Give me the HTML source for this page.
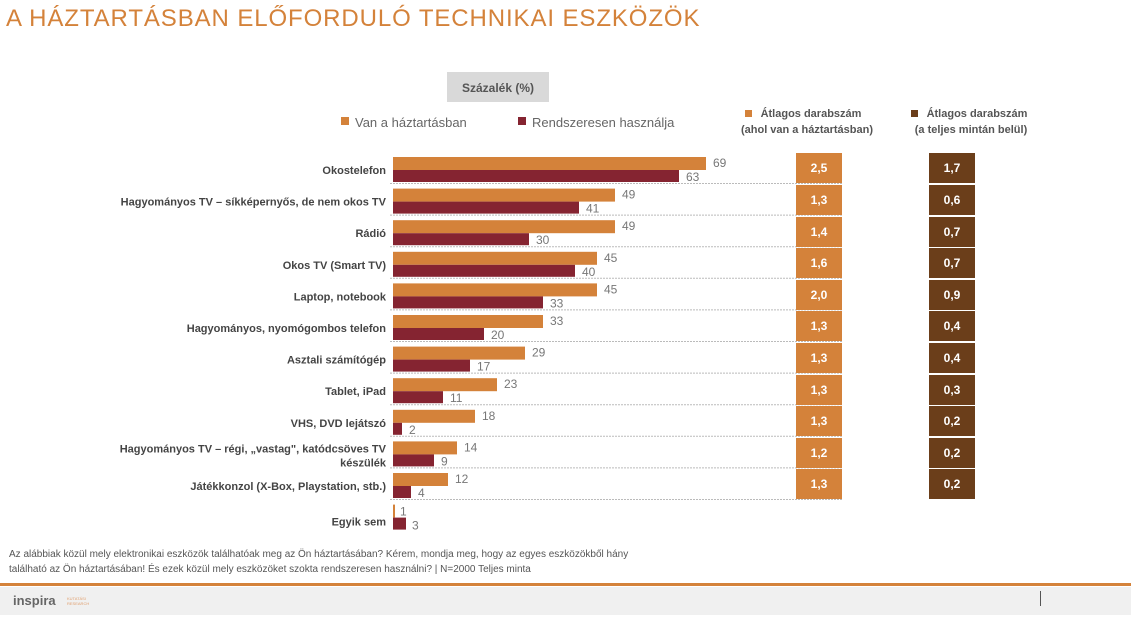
<!DOCTYPE html>
<html><head><meta charset="utf-8"><style>
body{margin:0;width:1131px;height:615px;overflow:hidden;background:#fff;font-family:"Liberation Sans",sans-serif}
</style></head><body>
<svg width="1131" height="615" xmlns="http://www.w3.org/2000/svg" font-family="Liberation Sans, sans-serif">
<text x="6" y="26" font-size="24" fill="#D4823A" letter-spacing="0.9">A HÁZTARTÁSBAN ELŐFORDULÓ TECHNIKAI ESZKÖZÖK</text>
<rect x="447" y="72" width="102" height="30" fill="#d9d9d9"/>
<text x="498" y="92" font-size="12" font-weight="bold" fill="#555" text-anchor="middle">Százalék (%)</text>
<rect x="341" y="117" width="8" height="8" fill="#D4823A"/>
<text x="355" y="127" font-size="13" fill="#666">Van a háztartásban</text>
<rect x="518" y="117" width="8" height="8" fill="#852431"/>
<text x="532" y="127" font-size="13" fill="#666">Rendszeresen  használja</text>
<rect x="745" y="110" width="7" height="7" fill="#D4823A"/>
<text x="811" y="117" font-size="11" font-weight="bold" fill="#555" text-anchor="middle">  Átlagos darabszám</text>
<text x="807" y="133" font-size="11" font-weight="bold" fill="#555" text-anchor="middle">(ahol van a háztartásban)</text>
<rect x="911" y="110" width="7" height="7" fill="#6B3E1A"/>
<text x="977" y="117" font-size="11" font-weight="bold" fill="#555" text-anchor="middle">  Átlagos darabszám</text>
<text x="971" y="133" font-size="11" font-weight="bold" fill="#555" text-anchor="middle">(a teljes mintán belül)</text>
<g font-size="11" font-weight="bold" fill="#444">
<g transform="translate(0,157)"><text x="386" y="17" text-anchor="end">Okostelefon</text><rect x="393" y="0" width="313" height="13" fill="#D4823A"/><rect x="393" y="13" width="286" height="12" fill="#852431"/><text x="713" y="10" font-weight="normal" fill="#777" font-size="12">69</text><text x="686" y="24" font-weight="normal" fill="#777" font-size="12">63</text></g>
<g transform="translate(0,188.6)"><text x="386" y="17" text-anchor="end">Hagyományos TV – síkképernyős, de nem okos TV</text><rect x="393" y="0" width="222" height="13" fill="#D4823A"/><rect x="393" y="13" width="186" height="12" fill="#852431"/><text x="622" y="10" font-weight="normal" fill="#777" font-size="12">49</text><text x="586" y="24" font-weight="normal" fill="#777" font-size="12">41</text></g>
<g transform="translate(0,220.2)"><text x="386" y="17" text-anchor="end">Rádió</text><rect x="393" y="0" width="222" height="13" fill="#D4823A"/><rect x="393" y="13" width="136" height="12" fill="#852431"/><text x="622" y="10" font-weight="normal" fill="#777" font-size="12">49</text><text x="536" y="24" font-weight="normal" fill="#777" font-size="12">30</text></g>
<g transform="translate(0,251.8)"><text x="386" y="17" text-anchor="end">Okos TV (Smart TV)</text><rect x="393" y="0" width="204" height="13" fill="#D4823A"/><rect x="393" y="13" width="182" height="12" fill="#852431"/><text x="604" y="10" font-weight="normal" fill="#777" font-size="12">45</text><text x="582" y="24" font-weight="normal" fill="#777" font-size="12">40</text></g>
<g transform="translate(0,283.4)"><text x="386" y="17" text-anchor="end">Laptop, notebook</text><rect x="393" y="0" width="204" height="13" fill="#D4823A"/><rect x="393" y="13" width="150" height="12" fill="#852431"/><text x="604" y="10" font-weight="normal" fill="#777" font-size="12">45</text><text x="550" y="24" font-weight="normal" fill="#777" font-size="12">33</text></g>
<g transform="translate(0,315)"><text x="386" y="17" text-anchor="end">Hagyományos, nyomógombos telefon</text><rect x="393" y="0" width="150" height="13" fill="#D4823A"/><rect x="393" y="13" width="91" height="12" fill="#852431"/><text x="550" y="10" font-weight="normal" fill="#777" font-size="12">33</text><text x="491" y="24" font-weight="normal" fill="#777" font-size="12">20</text></g>
<g transform="translate(0,346.6)"><text x="386" y="17" text-anchor="end">Asztali számítógép</text><rect x="393" y="0" width="132" height="13" fill="#D4823A"/><rect x="393" y="13" width="77" height="12" fill="#852431"/><text x="532" y="10" font-weight="normal" fill="#777" font-size="12">29</text><text x="477" y="24" font-weight="normal" fill="#777" font-size="12">17</text></g>
<g transform="translate(0,378.2)"><text x="386" y="17" text-anchor="end">Tablet, iPad</text><rect x="393" y="0" width="104" height="13" fill="#D4823A"/><rect x="393" y="13" width="50" height="12" fill="#852431"/><text x="504" y="10" font-weight="normal" fill="#777" font-size="12">23</text><text x="450" y="24" font-weight="normal" fill="#777" font-size="12">11</text></g>
<g transform="translate(0,409.8)"><text x="386" y="17" text-anchor="end">VHS, DVD lejátszó</text><rect x="393" y="0" width="82" height="13" fill="#D4823A"/><rect x="393" y="13" width="9" height="12" fill="#852431"/><text x="482" y="10" font-weight="normal" fill="#777" font-size="12">18</text><text x="409" y="24" font-weight="normal" fill="#777" font-size="12">2</text></g>
<g transform="translate(0,441.4)"><text x="386" y="11" text-anchor="end">Hagyományos TV – régi, „vastag", katódcsöves TV</text><text x="386" y="25" text-anchor="end">készülék</text><rect x="393" y="0" width="64" height="13" fill="#D4823A"/><rect x="393" y="13" width="41" height="12" fill="#852431"/><text x="464" y="10" font-weight="normal" fill="#777" font-size="12">14</text><text x="441" y="24" font-weight="normal" fill="#777" font-size="12">9</text></g>
<g transform="translate(0,473)"><text x="386" y="17" text-anchor="end">Játékkonzol (X-Box, Playstation, stb.)</text><rect x="393" y="0" width="55" height="13" fill="#D4823A"/><rect x="393" y="13" width="18" height="12" fill="#852431"/><text x="455" y="10" font-weight="normal" fill="#777" font-size="12">12</text><text x="418" y="24" font-weight="normal" fill="#777" font-size="12">4</text></g>
<g transform="translate(0,504.6)"><text x="386" y="21" text-anchor="end">Egyik sem</text><rect x="393" y="0" width="2" height="13" fill="#D4823A"/><rect x="393" y="13" width="13" height="12" fill="#852431"/><text x="400" y="11" font-weight="normal" fill="#777" font-size="12">1</text><text x="412" y="25" font-weight="normal" fill="#777" font-size="12">3</text></g>
</g>
<g stroke="#bbb" stroke-width="1" stroke-dasharray="2,1">
<line x1="390" x2="843" y1="183.5" y2="183.5"/><line x1="390" x2="843" y1="215.1" y2="215.1"/><line x1="390" x2="843" y1="246.7" y2="246.7"/><line x1="390" x2="843" y1="278.3" y2="278.3"/><line x1="390" x2="843" y1="309.9" y2="309.9"/><line x1="390" x2="843" y1="341.5" y2="341.5"/><line x1="390" x2="843" y1="373.1" y2="373.1"/><line x1="390" x2="843" y1="404.7" y2="404.7"/><line x1="390" x2="843" y1="436.3" y2="436.3"/><line x1="390" x2="843" y1="467.9" y2="467.9"/><line x1="390" x2="843" y1="499.5" y2="499.5"/>
</g>
<g font-size="12" font-weight="bold" fill="#fff" text-anchor="middle">
<g fill="#D4823A"><rect x="796" y="153" width="46" height="30"/><rect x="796" y="185" width="46" height="30"/><rect x="796" y="217" width="46" height="30"/><rect x="796" y="248" width="46" height="30"/><rect x="796" y="280" width="46" height="30"/><rect x="796" y="311" width="46" height="30"/><rect x="796" y="343" width="46" height="30"/><rect x="796" y="375" width="46" height="30"/><rect x="796" y="406" width="46" height="30"/><rect x="796" y="438" width="46" height="30"/><rect x="796" y="469" width="46" height="30"/></g>
<g fill="#6B3E1A"><rect x="929" y="153" width="46" height="30"/><rect x="929" y="185" width="46" height="30"/><rect x="929" y="217" width="46" height="30"/><rect x="929" y="248" width="46" height="30"/><rect x="929" y="280" width="46" height="30"/><rect x="929" y="311" width="46" height="30"/><rect x="929" y="343" width="46" height="30"/><rect x="929" y="375" width="46" height="30"/><rect x="929" y="406" width="46" height="30"/><rect x="929" y="438" width="46" height="30"/><rect x="929" y="469" width="46" height="30"/></g>
<text x="819" y="172">2,5</text><text x="819" y="204">1,3</text><text x="819" y="236">1,4</text><text x="819" y="267">1,6</text><text x="819" y="299">2,0</text><text x="819" y="330">1,3</text><text x="819" y="362">1,3</text><text x="819" y="394">1,3</text><text x="819" y="425">1,3</text><text x="819" y="457">1,2</text><text x="819" y="488">1,3</text>
<text x="952" y="172">1,7</text><text x="952" y="204">0,6</text><text x="952" y="236">0,7</text><text x="952" y="267">0,7</text><text x="952" y="299">0,9</text><text x="952" y="330">0,4</text><text x="952" y="362">0,4</text><text x="952" y="394">0,3</text><text x="952" y="425">0,2</text><text x="952" y="457">0,2</text><text x="952" y="488">0,2</text>
</g>
<text x="9" y="557" font-size="10" fill="#555">Az alábbiak közül mely elektronikai eszközök találhatóak meg az Ön háztartásában? Kérem, mondja meg, hogy az egyes eszközökből hány</text>
<text x="9" y="572" font-size="10" fill="#555">található az Ön háztartásában! És ezek közül mely eszközöket szokta rendszeresen használni? | N=2000 Teljes minta</text>
<rect x="0" y="587" width="1131" height="28" fill="#f0f0f0"/>
<rect x="0" y="583" width="1131" height="3" fill="#D4823A"/>
<text x="13" y="605" font-size="13" font-weight="bold" fill="#666">inspira</text>
<text x="67" y="600" font-size="4" fill="#E0A070">KUTATÁSI</text>
<text x="67" y="605" font-size="4" fill="#E0A070">RESEARCH</text>
<line x1="1040.5" x2="1040.5" y1="591" y2="606" stroke="#555"/>
</svg>
</body></html>
